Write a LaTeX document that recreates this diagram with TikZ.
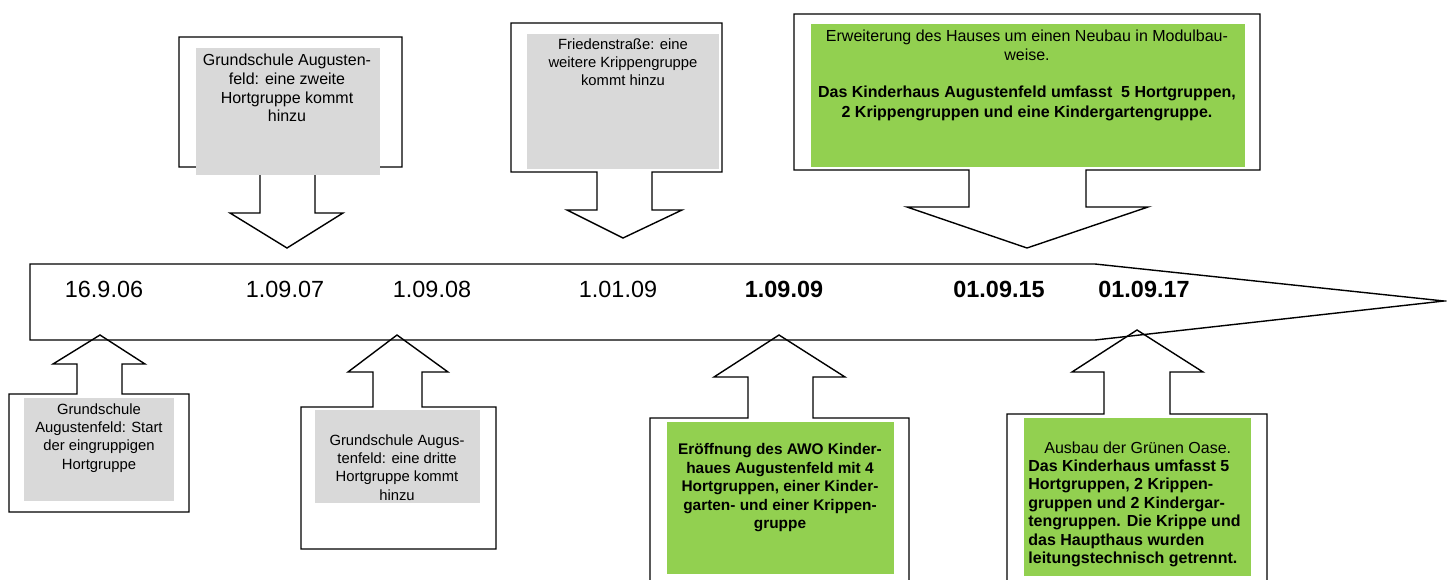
\documentclass[tikz,border=0pt]{standalone}
\usepackage{fontspec}
\setmainfont{Liberation Sans}
\definecolor{boxgrey}{RGB}{217,217,217}
\definecolor{boxgreen}{RGB}{146,208,80}

\begin{document}
\begin{tikzpicture}[x=0.5pt, y=-0.5pt,
  callout/.style={draw=black, line width=0.7pt, fill=white},
  greybox/.style={fill=boxgrey},
  greenbox/.style={fill=boxgreen},
  datum/.style={font=\fontsize{11.7}{14}\selectfont, inner sep=0pt},
  info/.style={font=\fontsize{7.4}{9.2}\selectfont, align=center, inner sep=0pt, anchor=north}]
\useasboundingbox (0,0) rectangle (1447,579);
\clip (0,0) rectangle (1447,579);

% callouts above the time line
\draw[callout] (179,37) -- (402,37) -- (402,167) -- (315,167) -- (315,213) -- (343,213) -- (287,248) -- (230,213) -- (260,213) -- (260,167) -- (179,167) -- cycle;
\draw[callout] (511,23) -- (722,23) -- (722,172) -- (652,172) -- (652,210) -- (682,210) -- (623,238) -- (567,210) -- (597,210) -- (597,172) -- (511,172) -- cycle;
\draw[callout] (794,14) -- (1260,14) -- (1260,170) -- (1086,170) -- (1086,207) -- (1148,207) -- (1027,248) -- (907,207) -- (969,207) -- (969,170) -- (794,170) -- cycle;

% callouts below the time line
\draw[callout] (100,335) -- (145,364) -- (122,364) -- (122,394) -- (189,394) -- (189,512) -- (9,512) -- (9,394) -- (77,394) -- (77,364) -- (53,364) -- cycle;
\draw[callout] (397,335) -- (448,372) -- (422,372) -- (422,407) -- (496,407) -- (496,549) -- (301,549) -- (301,407) -- (373,407) -- (373,372) -- (348,372) -- cycle;
\draw[callout] (779,335) -- (845,377) -- (813,377) -- (813,418) -- (909,418) -- (909,590) -- (650,590) -- (650,418) -- (748,418) -- (748,377) -- (714,377) -- cycle;
\draw[callout] (1137,330) -- (1203,372) -- (1170,372) -- (1170,414) -- (1267,414) -- (1267,590) -- (1007,590) -- (1007,414) -- (1104,414) -- (1104,372) -- (1072,372) -- cycle;

\fill[greybox] (196,48) rectangle (380,175);
\fill[greybox] (527,34) rectangle (719,169);
\fill[greenbox] (811,24) rectangle (1245,167);
\fill[greybox] (24,398) rectangle (174,501);
\fill[greybox] (315,410) rectangle (480,503);
\fill[greenbox] (667,422) rectangle (894,574);
\fill[greenbox] (1024,418) rectangle (1251,576);

% time line
\draw[line width=0.7pt] (30,264) -- (1095,264) -- (1444,301) -- (1095,340) -- (30,340) -- cycle;

\node[datum] (d06) at (104,289) {16.9.06};
\node[datum] (d07) at (285,289) {1.09.07};
\node[datum] (d08) at (432,289) {1.09.08};
\node[datum] (d09a) at (618,289) {1.01.09};
\node[datum, font=\fontsize{11.7}{14}\selectfont\bfseries] (d09b) at (784,289) {1.09.09};
\node[datum, font=\fontsize{11.7}{14}\selectfont\bfseries] (d15) at (999,289) {01.09.15};
\node[datum, font=\fontsize{11.7}{14}\selectfont\bfseries] (d17) at (1144,289) {01.09.17};

\node[info, font=\fontsize{8}{9.3}\selectfont] (t07) at (287,54) {Grundschule Augusten-\\feld: eine zweite\\Hortgruppe kommt\\hinzu};
\node[info] (t09a) at (623,38) {Friedenstraße: eine\\weitere Krippengruppe\\kommt hinzu};
\node[info, font=\fontsize{8}{9.2}\selectfont] (t15) at (1027,30) {Erweiterung des Hauses um einen Neubau in Modulbau-\\weise.\\[9.2pt]
  \bfseries Das Kinderhaus Augustenfeld umfasst\ \ 5 Hortgruppen,\\[0.8pt]\bfseries 2 Krippengruppen und eine Kindergartengruppe.};
\node[info] (t06) at (99,403) {Grundschule\\Augustenfeld: Start\\der eingruppigen\\Hortgruppe};
\node[info] (t08) at (397,434) {Grundschule Augus-\\tenfeld: eine dritte\\Hortgruppe kommt\\hinzu};
\node[info, font=\fontsize{7.7}{9.3}\selectfont\bfseries] (t09b) at (780,443) {Eröffnung des AWO Kinder-\\haues Augustenfeld mit 4\\Hortgruppen, einer Kinder-\\garten- und einer Krippen-\\gruppe};
\node[info, font=\fontsize{8}{9.2}\selectfont, align=left, anchor=north west] (t17) at (1028,441) {\hspace*{8pt}Ausbau der Grünen Oase.\\\bfseries Das Kinderhaus umfasst 5\\\bfseries Hortgruppen, 2 Krippen-\\\bfseries gruppen und 2 Kindergar-\\\bfseries tengruppen. Die Krippe und\\\bfseries das Haupthaus wurden\\\bfseries leitungstechnisch getrennt.};
\end{tikzpicture}
\end{document}
